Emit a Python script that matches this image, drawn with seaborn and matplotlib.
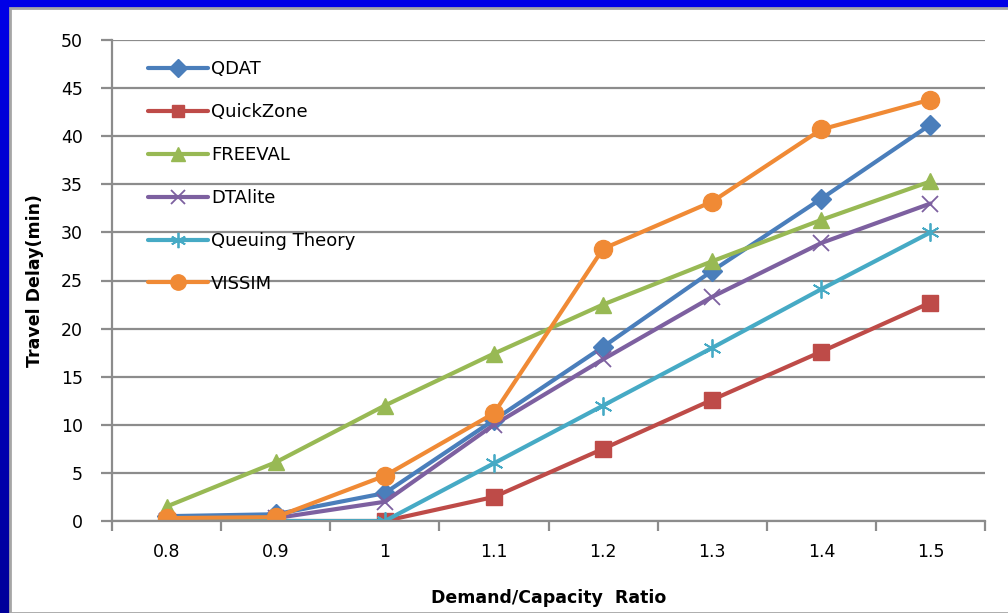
import numpy as np
import pandas as pd
import matplotlib
matplotlib.use("Agg")
import matplotlib.pyplot as plt
from matplotlib.patches import Rectangle
import seaborn as sns

# Demand/capacity ratios (category labels on the x axis)
ratios = ["0.8", "0.9", "1", "1.1", "1.2", "1.3", "1.4", "1.5"]

# Travel delay (min) by model
qdat = [0.5, 0.7, 2.9, 10.5, 18.1, 26.0, 33.5, 41.2]
quickzone = [0.0, 0.0, 0.0, 2.5, 7.5, 12.6, 17.6, 22.7]
freeval = [1.5, 6.1, 12.0, 17.4, 22.5, 27.0, 31.3, 35.3]
dtalite = [0.0, 0.3, 2.0, 10.0, 16.8, 23.3, 28.9, 33.0]
queuing = [0.0, 0.0, 0.0, 6.0, 12.0, 18.0, 24.1, 30.0]
vissim = [0.3, 0.4, 4.7, 11.2, 28.3, 33.2, 40.7, 43.8]

series_names = ["QDAT", "QuickZone", "FREEVAL", "DTAlite", "Queuing Theory", "VISSIM"]
series_values = [qdat, quickzone, freeval, dtalite, queuing, vissim]

colors = ["#4A7EBB", "#BE4B48", "#98B954", "#7D60A0", "#46AAC5", "#F08A35"]
markers = ["D", "s", "^", "x", (6, 2, 0), "o"]
msizes = [10.5, 11, 12, 12, 13, 13]

sns.set_theme(style="white")
plt.rcParams["font.family"] = ["DejaVu Sans"]
plt.rcParams["text.color"] = "black"
plt.rcParams["axes.labelcolor"] = "black"
plt.rcParams["xtick.color"] = "black"
plt.rcParams["ytick.color"] = "black"

W, H = 1008, 613
fig = plt.figure(figsize=(W / 100, H / 100), dpi=100)

# slide-style blue backdrop with a vertical gradient
bg = fig.add_axes([0, 0, 1, 1], zorder=-10)
grad = np.linspace(0, 1, 256).reshape(-1, 1)
bg.imshow(grad, aspect="auto", extent=[0, 1, 0, 1],
          cmap=matplotlib.colors.LinearSegmentedColormap.from_list(
              "slide", ["#0000E8", "#00009A"]))
bg.set_axis_off()
fig.patches.append(Rectangle((10 / W, 0), 1, 1 - 8 / H, transform=fig.transFigure,
                             facecolor="white", edgecolor="#A6A6A6", lw=2, zorder=-5))

ax = fig.add_axes([112 / W, 1 - 521 / H, (985 - 112) / W, (521 - 40) / H])
ax.set_facecolor("none")

for name, vals, c, m, ms in zip(series_names, series_values, colors, markers, msizes):
    df = pd.DataFrame({"ratio": ratios, "delay": vals})
    filled = m in ("D", "s", "^", "o")
    sns.lineplot(data=df, x="ratio", y="delay", ax=ax, color=c, lw=3.0,
                 marker=m, markersize=ms, label=name,
                 markeredgecolor=c, markerfacecolor=c if filled else "none",
                 markeredgewidth=1.0 if filled else 1.3, sort=False)

ax.set_ylim(0, 50)
ax.set_xlim(-0.5, len(ratios) - 0.5)
ax.set_yticks(np.arange(0, 51, 5))
ax.grid(axis="y", color="#8C8C8C", lw=1.6)
ax.grid(axis="x", visible=False)
for s in ["top", "right"]:
    ax.spines[s].set_visible(False)
for s in ["left", "bottom"]:
    ax.spines[s].set_color("#8C8C8C")
    ax.spines[s].set_linewidth(1.6)

ax.tick_params(axis="y", length=8, width=1.6, color="#8C8C8C", labelsize=12.5,
               pad=13, left=True, labelcolor="black")
ax.tick_params(axis="x", which="major", length=0, labelsize=12.5, pad=16,
               labelcolor="black")
ax.set_xticks(np.arange(-0.5, len(ratios), 1), minor=True)
ax.tick_params(axis="x", which="minor", length=7, width=1.6, color="#8C8C8C",
               bottom=True)

ax.set_xlabel("Demand/Capacity  Ratio", fontsize=12.5, fontweight="bold",
              labelpad=20, color="black")
ax.set_ylabel("Travel Delay(min)", fontsize=12.5, fontweight="bold",
              labelpad=12, color="black")

leg = ax.legend(loc="upper left", bbox_to_anchor=(36 / 873, 0.958), frameon=False,
                fontsize=13, labelspacing=1.38, handlelength=3.3, handletextpad=0.2,
                borderpad=0, borderaxespad=0, markerscale=0.85)
for t in leg.get_texts():
    t.set_color("black")

fig.savefig("out.png", dpi=100)
